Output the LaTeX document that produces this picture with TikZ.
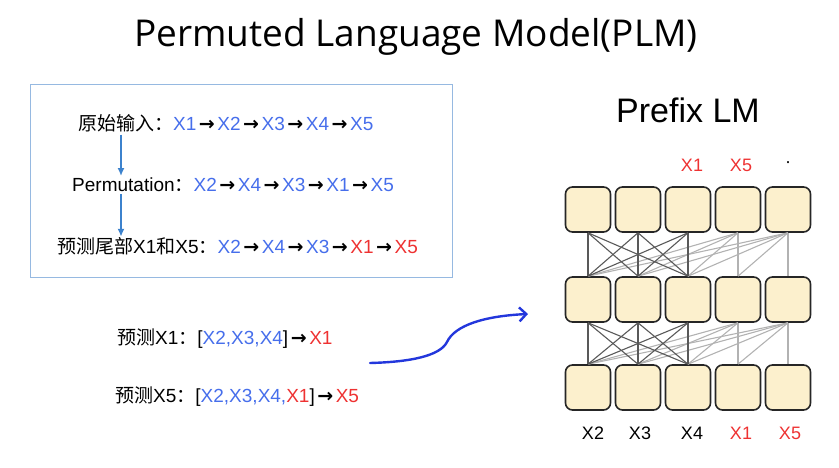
\documentclass[tikz,border=0pt]{standalone}
\usepackage{fontspec}
\setmainfont{Liberation Sans}
\newfontfamily\cjk{Noto Sans CJK SC}
\newfontfamily\titlefont{Open Sans}
\newfontfamily\arrowfont{DejaVu Sans}
\usetikzlibrary{arrows.meta, positioning}
\definecolor{tokblue}{RGB}{70, 110, 235}
\definecolor{tokred}{RGB}{238, 50, 50}
\definecolor{flowblue}{RGB}{60, 130, 205}
\definecolor{curveblue}{RGB}{35, 55, 220}
\definecolor{frameblue}{RGB}{150, 185, 225}
\definecolor{cellfill}{RGB}{252, 240, 205}
\newcommand{\tokb}[1]{\textcolor{tokblue}{#1}}
\newcommand{\tokr}[1]{\textcolor{tokred}{#1}}
\newcommand{\nxt}{\makebox[21pt]{\arrowfont\bfseries →}}

\begin{document}
\begin{tikzpicture}[x=1pt, y=1pt,
    txt/.style={font=\fontsize{19}{22}\selectfont, inner sep=0pt, anchor=base west},
    lbl/.style={font=\fontsize{18}{21}\selectfont, inner sep=0pt},
    cell/.style={draw=black!85, line width=1.6pt, fill=cellfill, rounded corners=7pt,
                 minimum size=45pt, inner sep=0pt},
    dark/.style={draw=black!65, line width=1.1pt},
    light/.style={draw=black!30, line width=1.1pt},
    flow/.style={draw=flowblue, line width=1.6pt, -{Latex[length=8pt, width=7pt]}}]
    \useasboundingbox (0,0) rectangle (839,468);

    % titles
    \node[font=\titlefont\fontsize{37}{42}\selectfont, anchor=base] (title) at (416,421) {Permuted Language Model(PLM)};
    \node[font=\fontsize{34}{38}\selectfont, anchor=base] (prefix) at (688,345) {Prefix LM};

    % permutation box
    \draw[frameblue, line width=1pt] (30,190) rectangle (452,383);
    \node[txt] (orig) at (78,337) {{\cjk 原始输入：}\tokb{X1}\nxt\tokb{X2}\nxt\tokb{X3}\nxt\tokb{X4}\nxt\tokb{X5}};
    \node[txt] (perm) at (72,276) {Permutation{\cjk ：}\tokb{X2}\nxt\tokb{X4}\nxt\tokb{X3}\nxt\tokb{X1}\nxt\tokb{X5}};
    \node[txt] (pred) at (57,214) {{\cjk 预测尾部}X1{\cjk 和}X5{\cjk ：}\tokb{X2}\nxt\tokb{X4}\nxt\tokb{X3}\nxt\tokr{X1}\nxt\tokr{X5}};
    \coordinate (ax) at (121,0);
    \draw[flow, shorten <=2pt, shorten >=2pt] (orig.south -| ax) -- (perm.north -| ax);
    \draw[flow, shorten <=2pt, shorten >=1pt] (perm.south -| ax) -- (pred.north -| ax);

    % predictions
    \node[txt] (predA) at (117,123) {{\cjk 预测}X1{\cjk ：}[\tokb{X2,X3,X4}]\nxt\tokr{X1}};
    \node[txt] (predB) at (115,65) {{\cjk 预测}X5{\cjk ：}[\tokb{X2,X3,X4,}\tokr{X1}]\nxt\tokr{X5}};
    \coordinate (cs) at (370,105);
    \coordinate (ce) at (528,154);
    \draw[curveblue, line width=2.4pt, line cap=round, -{Straight Barb[length=7pt, width=14pt]}]
        (cs) .. controls (410,106) and (440,112) .. (447,126)
             .. controls (455,143) and (485,152) .. (ce);

    % attention cells
    \foreach \r/\yy in {top/258.5, mid/168.5, bot/80.5}
        \foreach \i in {1,...,5}
            \node[cell] (\r\i) at ({538+50*\i},\yy) {};
    \foreach \u/\l in {top/mid, mid/bot} {
        \foreach \i in {1,...,4}
            \draw[light] (\u4.south) -- (\l\i.north);
        \foreach \i in {1,...,5}
            \draw[light] (\u5.south) -- (\l\i.north);
        \foreach \j in {1,2,3}
            \foreach \i in {1,2,3}
                \draw[dark] (\u\j.south) -- (\l\i.north);
    }

    % labels
    \node[lbl, text=tokred, above=14pt of top3, xshift=4pt] (outA) {X1};
    \node[lbl, text=tokred, above=14pt of top4, xshift=3pt] (outB) {X5};
    \node[lbl, above=18pt of top5] (outC) {·};
    \node[lbl, below=16pt of bot1, xshift=5pt] (inA) {X2};
    \node[lbl, below=16pt of bot2, xshift=2pt] (inB) {X3};
    \node[lbl, below=16pt of bot3, xshift=4pt] (inC) {X4};
    \node[lbl, text=tokred, below=16pt of bot4, xshift=3pt] (inD) {X1};
    \node[lbl, text=tokred, below=16pt of bot5, xshift=2pt] (inE) {X5};
\end{tikzpicture}
\end{document}
